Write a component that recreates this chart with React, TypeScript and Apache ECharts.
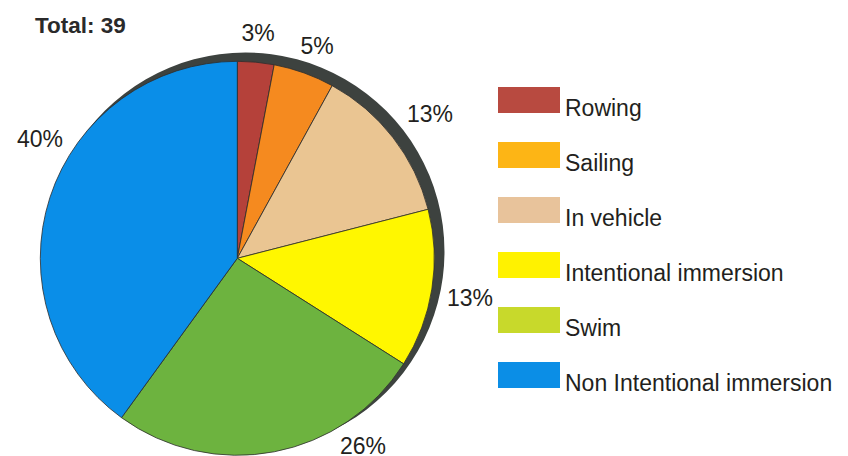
import React, { useEffect, useRef } from "react";
import * as echarts from "echarts";

const CATEGORIES = [
  "Rowing",
  "Sailing",
  "In vehicle",
  "Intentional immersion",
  "Swim",
  "Non Intentional immersion",
];
const PERCENTS = [3, 5, 13, 13, 26, 40];
const TOTAL_LABEL = "Total: 39";
const SLICE_COLORS = ["#b5413a", "#f58a1f", "#eac592", "#fff700", "#6db33f", "#0a8ee8"];
const LEGEND_COLORS = ["#b84a40", "#fdb515", "#e8c39b", "#fff200", "#c8d92b", "#0b8ee6"];

// label centres (layout only)
const LABEL_POS: [number, number][] = [
  [258, 33],
  [317, 46],
  [430, 114],
  [470, 298],
  [363, 446],
  [40, 139],
];

const FONT = "'Liberation Sans', Arial, Helvetica, sans-serif";

export default function App() {
  const ref = useRef<HTMLDivElement>(null);
  useEffect(() => {
    if (!ref.current) return;
    const chart = echarts.init(ref.current, undefined, { renderer: "svg" });
    chart.setOption({
      animation: false,
      backgroundColor: "#ffffff",
      title: {
        text: TOTAL_LABEL,
        left: 35,
        top: 14,
        padding: 0,
        textStyle: { fontFamily: FONT, fontSize: 22.5, fontWeight: "bold", color: "#2a2a2a" },
      },
      legend: {
        orient: "vertical",
        left: 498,
        top: 87,
        padding: 0,
        itemWidth: 62,
        itemHeight: 26,
        itemGap: 23,
        icon: "rect",
        selectedMode: false,
        itemStyle: { borderWidth: 0 },
        formatter: (name: string) => `{s|}{t|${name}}`,
        textStyle: {
          fontFamily: FONT,
          fontSize: 23,
          color: "#231f20",
          rich: {
            s: { height: 38, width: 0 },
            t: { fontFamily: FONT, fontSize: 23, color: "#231f20", verticalAlign: "bottom" },
          },
        },
        data: CATEGORIES.map((name, i) => ({
          name,
          itemStyle: { color: LEGEND_COLORS[i], borderWidth: 0 },
        })),
      },
      series: [
        {
          type: "pie",
          name: "shadow",
          silent: true,
          center: [245.5, 251.5],
          radius: 199,
          z: 1,
          label: { show: false },
          labelLine: { show: false },
          itemStyle: { color: "#3d423f", borderWidth: 0 },
          data: [{ name: "__shadow", value: PERCENTS.reduce((a, b) => a + b, 0) }],
        },
        {
          type: "pie",
          name: "cases",
          center: [237.3, 258.3],
          radius: 197,
          startAngle: 90,
          clockwise: true,
          z: 2,
          avoidLabelOverlap: false,
          itemStyle: { borderColor: "#2d2d2d", borderWidth: 0.8 },
          label: {
            show: true,
            position: "outside",
            formatter: "{c}%",
            fontFamily: FONT,
            fontSize: 23,
            color: "#231f20",
          },
          labelLine: { show: false },
          labelLayout: (p: any) => ({
            x: LABEL_POS[p.dataIndex][0],
            y: LABEL_POS[p.dataIndex][1],
            align: "center",
            verticalAlign: "middle",
          }),
          emphasis: { disabled: true },
          data: CATEGORIES.map((name, i) => ({
            name,
            value: PERCENTS[i],
            itemStyle: { color: SLICE_COLORS[i] },
          })),
        },
      ],
    });
    return () => chart.dispose();
  }, []);
  return (
    <div
      ref={ref}
      style={{ position: "absolute", left: 0, top: 0, width: 848, height: 456 }}
    />
  );
}
